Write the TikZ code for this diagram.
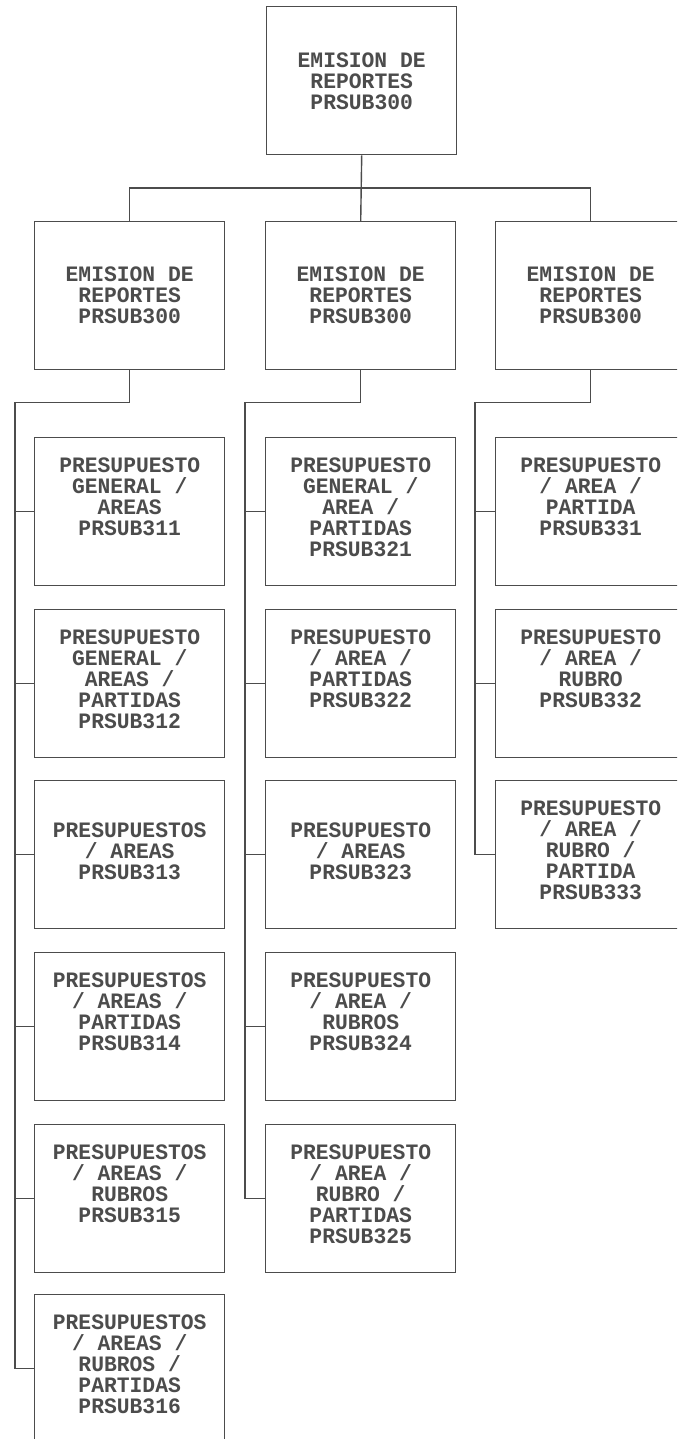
\documentclass[tikz,border=0pt]{standalone}
\usepackage{fontspec}
\setmonofont{Liberation Mono}[FakeStretch=0.97]
\definecolor{linec}{gray}{0.30}
\definecolor{textc}{gray}{0.30}
\newcommand{\boxfont}{\ttfamily\bfseries\fontsize{22}{21}\selectfont}
\begin{document}
\lineskiplimit=-50pt\relax
\begin{tikzpicture}[x=1pt,y=-1pt,
  box/.style={draw=linec, line width=1.4pt, minimum width=190pt, minimum height=148pt, inner sep=0pt, anchor=north west},
  lbl/.style={anchor=north, align=center, inner sep=0pt, text=textc, font=\boxfont},
  conn/.style={draw=linec, line width=1.4pt}]
\lineskiplimit=-50pt\relax
\useasboundingbox (0,0) rectangle (677,1439);
\fill[white] (0,0) rectangle (677,1439);
\clip (0,0) rectangle (677,1439);
% boxes
\node[box] (top) at (266,6) {};
\node[box] (l2a) at (34,221) {};
\node[box] (l2b) at (265,221) {};
\node[box] (l2c) at (495,221) {};
\node[box] (b311) at (34,437) {};
\node[box] (b312) at (34,609) {};
\node[box] (b313) at (34,780) {};
\node[box] (b314) at (34,952) {};
\node[box] (b315) at (34,1124) {};
\node[box] (b316) at (34,1294) {};
\node[box] (b321) at (265,437) {};
\node[box] (b322) at (265,609) {};
\node[box] (b323) at (265,780) {};
\node[box] (b324) at (265,952) {};
\node[box] (b325) at (265,1124) {};
\node[box] (b331) at (495,437) {};
\node[box] (b332) at (495,609) {};
\node[box] (b333) at (495,780) {};
% texts
\node[lbl] (ttop) at ([yshift=-47pt]top.north) {EMISION DE\\REPORTES\\PRSUB300};
\node[lbl] (tl2a) at ([yshift=-46pt]l2a.north) {EMISION DE\\REPORTES\\PRSUB300};
\node[lbl] (tl2b) at ([yshift=-46pt]l2b.north) {EMISION DE\\REPORTES\\PRSUB300};
\node[lbl] (tl2c) at ([yshift=-46pt]l2c.north) {EMISION DE\\REPORTES\\PRSUB300};
\node[lbl] (t311) at ([yshift=-21pt]b311.north) {PRESUPUESTO\\GENERAL /\\AREAS\\PRSUB311};
\node[lbl] (t312) at ([yshift=-21pt]b312.north) {PRESUPUESTO\\GENERAL /\\AREAS /\\PARTIDAS\\PRSUB312};
\node[lbl] (t313) at ([yshift=-43pt]b313.north) {PRESUPUESTOS\\/ AREAS\\PRSUB313};
\node[lbl] (t314) at ([yshift=-21pt]b314.north) {PRESUPUESTOS\\/ AREAS /\\PARTIDAS\\PRSUB314};
\node[lbl] (t315) at ([yshift=-21pt]b315.north) {PRESUPUESTOS\\/ AREAS /\\RUBROS\\PRSUB315};
\node[lbl] (t316) at ([yshift=-21pt]b316.north) {PRESUPUESTOS\\/ AREAS /\\RUBROS /\\PARTIDAS\\PRSUB316};
\node[lbl] (t321) at ([yshift=-21pt]b321.north) {PRESUPUESTO\\GENERAL /\\AREA /\\PARTIDAS\\PRSUB321};
\node[lbl] (t322) at ([yshift=-21pt]b322.north) {PRESUPUESTO\\/ AREA /\\PARTIDAS\\PRSUB322};
\node[lbl] (t323) at ([yshift=-43pt]b323.north) {PRESUPUESTO\\/ AREAS\\PRSUB323};
\node[lbl] (t324) at ([yshift=-21pt]b324.north) {PRESUPUESTO\\/ AREA /\\RUBROS\\PRSUB324};
\node[lbl] (t325) at ([yshift=-21pt]b325.north) {PRESUPUESTO\\/ AREA /\\RUBRO /\\PARTIDAS\\PRSUB325};
\node[lbl] (t331) at ([yshift=-21pt]b331.north) {PRESUPUESTO\\/ AREA /\\PARTIDA\\PRSUB331};
\node[lbl] (t332) at ([yshift=-21pt]b332.north) {PRESUPUESTO\\/ AREA /\\RUBRO\\PRSUB332};
\node[lbl] (t333) at ([yshift=-21pt]b333.north) {PRESUPUESTO\\/ AREA /\\RUBRO /\\PARTIDA\\PRSUB333};
% connectors
\draw[conn] (top.south) -- (l2b.north);
\draw[conn] (l2a.north) -- ++(0,-33) -| (l2c.north);
\draw[conn] (l2a.south) -- ++(0,32) -| ([xshift=-19pt]b316.west) -- (b316.west);
\foreach \n in {311,312,313,314,315} \draw[conn] (b\n.west) -- ++(-19,0);
\draw[conn] (l2b.south) -- ++(0,32) -| ([xshift=-20pt]b325.west) -- (b325.west);
\foreach \n in {321,322,323,324} \draw[conn] (b\n.west) -- ++(-20,0);
\draw[conn] (l2c.south) -- ++(0,32) -| ([xshift=-20pt]b333.west) -- (b333.west);
\foreach \n in {331,332} \draw[conn] (b\n.west) -- ++(-20,0);
\end{tikzpicture}
\end{document}
